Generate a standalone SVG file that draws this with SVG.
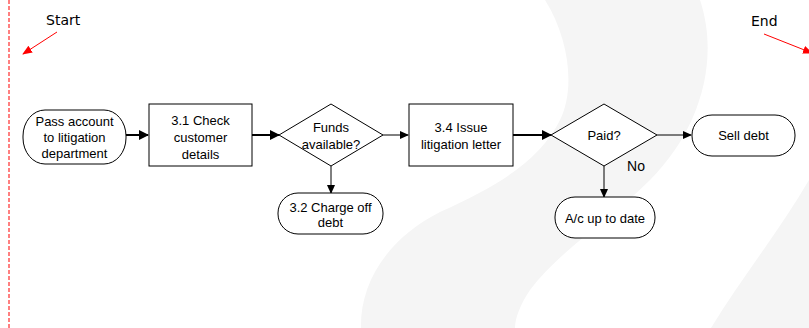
<svg xmlns="http://www.w3.org/2000/svg" width="809" height="328" viewBox="0 0 809 328">
<defs>
<style>
.n{fill:#fff;stroke:#000;stroke-width:1}
.t{font-family:"Liberation Sans",Arial,sans-serif;font-size:13px;fill:#000;text-anchor:middle}
.lbl{font-family:"DejaVu Sans",Tahoma,sans-serif;font-size:14px;fill:#000}
.thick{stroke:#000;stroke-width:2;fill:none}
.thin{stroke:#000;stroke-width:1;fill:none}
.red{stroke:#ff0000;stroke-width:1;fill:none}
</style>
<marker id="ah" markerWidth="10" markerHeight="10" refX="9" refY="5" orient="auto" markerUnits="userSpaceOnUse">
<path d="M0,0 L10,5 L0,10 Z" fill="#000"/>
</marker>
<marker id="ahs" markerWidth="9" markerHeight="8" refX="8" refY="4" orient="auto" markerUnits="userSpaceOnUse">
<path d="M0,0 L9,4 L0,8 Z" fill="#000"/>
</marker>
<marker id="ahr" markerWidth="10" markerHeight="8" refX="9" refY="4" orient="auto" markerUnits="userSpaceOnUse">
<path d="M0,0 L10,4 L0,8 Z" fill="#ff0000"/>
</marker>
</defs>
<rect width="809" height="328" fill="#fff"/>
<g id="watermark" fill="#f5f5f5">
<path d="M361 328 C360 285 385 240 440 212 C500 185 540 160 560 120 C575 90 570 40 545 0 L700 0 C720 60 700 130 650 180 C610 220 560 250 530 290 C520 305 515 318 515 328 Z"/>
<path d="M711 328 C740 280 780 230 809 180 L809 328 Z"/>
</g>
<line x1="9" y1="0" x2="9" y2="328" stroke="#ff0000" stroke-width="1" stroke-dasharray="4 2"/>
<g id="start-label">
<text class="lbl" x="46" y="25">Start</text>
<line class="red" x1="57" y1="32" x2="23" y2="54" marker-end="url(#ahr)"/>
</g>
<g id="end-label">
<text class="lbl" x="751" y="26">End</text>
<line class="red" x1="764" y1="34" x2="812" y2="53" marker-end="url(#ahr)"/>
</g>
<g id="connectors">
<line class="thick" x1="126" y1="135" x2="148" y2="135" marker-end="url(#ah)"/>
<line class="thick" x1="252" y1="135" x2="279" y2="135" marker-end="url(#ah)"/>
<line class="thin" x1="383" y1="135" x2="408" y2="135" marker-end="url(#ahs)"/>
<line class="thick" x1="513" y1="135" x2="551" y2="135" marker-end="url(#ah)"/>
<line class="thin" x1="657" y1="135" x2="691" y2="135" marker-end="url(#ahs)"/>
<line class="thin" x1="331" y1="166" x2="331" y2="193" marker-end="url(#ahs)"/>
<line class="thin" x1="604" y1="166" x2="604" y2="197" marker-end="url(#ahs)"/>
<text class="t" x="636" y="171" style="font-size:14px">No</text>
</g>
<g id="pass-account">
<rect class="n" x="23" y="110" width="103" height="54" rx="22" ry="26"/>
<text class="t" x="74.5" y="126">Pass account</text>
<text class="t" x="74.5" y="142">to litigation</text>
<text class="t" x="74.5" y="158">department</text>
</g>
<g id="check-customer">
<rect class="n" x="149" y="104" width="103" height="62"/>
<text class="t" x="200.5" y="125">3.1 Check</text>
<text class="t" x="200.5" y="142">customer</text>
<text class="t" x="200.5" y="159">details</text>
</g>
<g id="funds-available">
<polygon class="n" points="331,104 383,135 331,166 279,135"/>
<text class="t" x="331" y="132">Funds</text>
<text class="t" x="331" y="149">available?</text>
</g>
<g id="charge-off">
<rect class="n" x="278" y="193" width="105" height="41" rx="20" ry="20"/>
<text class="t" x="330.5" y="212">3.2 Charge off</text>
<text class="t" x="330.5" y="227">debt</text>
</g>
<g id="issue-letter">
<rect class="n" x="409" y="104" width="104" height="62"/>
<text class="t" x="461" y="132">3.4 Issue</text>
<text class="t" x="461" y="149">litigation letter</text>
</g>
<g id="paid">
<polygon class="n" points="604,104 657,135 604,166 551,135"/>
<text class="t" x="604" y="140">Paid?</text>
</g>
<g id="sell-debt">
<rect class="n" x="692" y="115" width="103" height="41" rx="20" ry="20"/>
<text class="t" x="743.5" y="140">Sell debt</text>
</g>
<g id="ac-up-to-date">
<rect class="n" x="555" y="197" width="100" height="41" rx="20" ry="20"/>
<text class="t" x="605" y="223">A/c up to date</text>
</g>
</svg>
